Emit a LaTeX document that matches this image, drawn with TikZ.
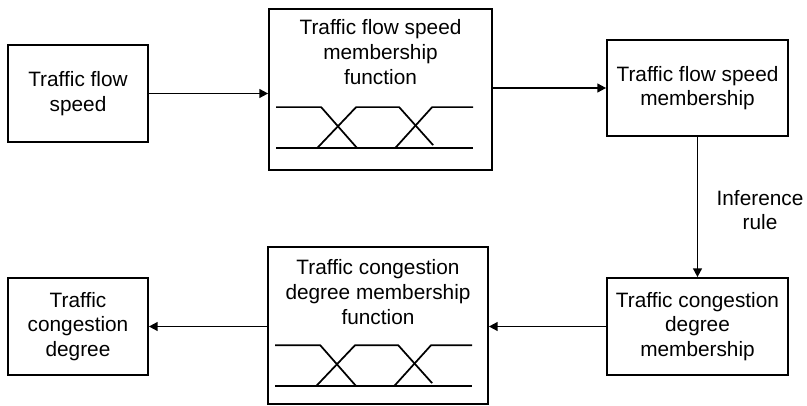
\documentclass[tikz,border=0pt]{standalone}
\usepackage{fontspec}
\setmainfont{Liberation Sans}
\usetikzlibrary{arrows.meta,positioning,calc}
\tikzset{
  box/.style={draw=black, line width=1.3pt, align=center, inner sep=2pt, font=\fontsize{15.6}{18.5}\selectfont},
  txt/.style={align=center, font=\fontsize{15.6}{18.5}\selectfont},
  arrow/.style={-{Triangle[length=6.5pt,width=6.5pt]}, line width=1.3pt},
  mfline/.style={line width=1.3pt}
}
% two crossing membership curves, placed from the box's north west corner
\newcommand{\mfcurve}[1]{%
  \draw[mfline] ($(#1.north west)+(8,99)$) -- ($(#1.north west)+(53,99)$) -- ($(#1.north west)+(89,140)$);
  \draw[mfline] ($(#1.north west)+(49,140)$) -- ($(#1.north west)+(88,99)$) -- ($(#1.north west)+(131,99)$) -- ($(#1.north west)+(165,137)$);
  \draw[mfline] ($(#1.north west)+(127,140)$) -- ($(#1.north west)+(164,99)$) -- ($(#1.north west)+(205,99)$);
  \draw[mfline] ($(#1.north west)+(8,140)$) -- ($(#1.north west)+(205,140)$);
}

\begin{document}
\begin{tikzpicture}[x=0.75pt,y=-0.75pt]
\useasboundingbox (0,0) rectangle (807,406);
\node[box, minimum width=105pt, minimum height=72.75pt] (spd) at (78,93.5) {Traffic flow\\speed};
\node[box, minimum width=167.25pt, minimum height=120.75pt] (spdmf) at (380.5,89.5) {};
\node[txt] (spdmft) at ($(spdmf.north)+(0,44)$) {Traffic flow speed\\membership\\function};
\mfcurve{spdmf}
\node[box, minimum width=135.75pt, minimum height=72pt] (spdm) at (697.5,88) {Traffic flow speed\\membership};
\node[box, minimum width=135.75pt, minimum height=72.75pt] (cdm) at (697.5,326.5) {Traffic congestion\\degree\\membership};
\node[box, minimum width=165pt, minimum height=117.75pt] (cdmf) at (378,325.5) {};
\node[txt] (cdmft) at ($(cdmf.north)+(0,46)$) {Traffic congestion\\degree membership\\function};
\mfcurve{cdmf}
\node[box, minimum width=105pt, minimum height=72.75pt] (cd) at (78,326.5) {Traffic\\congestion\\degree};
\node[txt] (rule) at (760,210) {Inference\\rule};
\draw[arrow] (spd.east) -- (spd.east -| spdmf.west);
\draw[arrow] (spdmf.east |- spdm.west) -- (spdm.west);
\draw[arrow] (spdm.south) -- (cdm.north);
\draw[arrow] (cdm.west) -- (cdm.west -| cdmf.east);
\draw[arrow] (cdmf.west |- cd.east) -- (cd.east);
\end{tikzpicture}
\end{document}
